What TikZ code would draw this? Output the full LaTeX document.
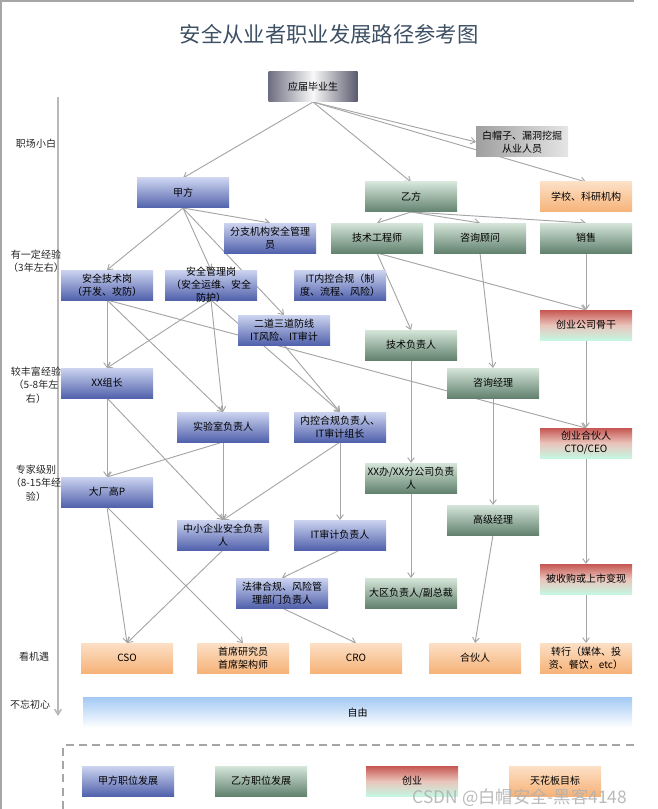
\documentclass[tikz,border=0pt]{standalone}
\usepackage{fontspec}
\setmainfont{Noto Sans CJK SC}
\usetikzlibrary{arrows.meta}
\pgfdeclarelayer{bg}
\pgfsetlayers{bg,main}
\definecolor{bluetop}{RGB}{204,212,240}
\definecolor{bluebot}{RGB}{82,98,172}
\definecolor{greentop}{RGB}{214,230,218}
\definecolor{greenbot}{RGB}{98,130,110}
\definecolor{orangetop}{RGB}{252,224,198}
\definecolor{orangebot}{RGB}{246,178,120}
\definecolor{redtop}{RGB}{198,86,82}
\definecolor{redmid}{RGB}{234,196,186}
\definecolor{redbot}{RGB}{196,246,226}
\definecolor{skytop}{RGB}{164,202,244}
\definecolor{linegray}{RGB}{165,165,165}
\definecolor{titlecol}{RGB}{62,80,100}
\definecolor{gdark}{RGB}{110,110,130}
\definecolor{gdark2}{RGB}{90,90,110}
\newcommand{\mybox}[4]{\node[#1] (#2) at (#3) {}; \node[txt] (#2-t) at (#2.center) {#4};}
\tikzset{
  basebox/.style={minimum width=69pt, minimum height=22.5pt, inner sep=0pt, outer sep=0pt},
  bluebox/.style={basebox, top color=bluetop, bottom color=bluebot},
  greenbox/.style={basebox, top color=greentop, bottom color=greenbot},
  orangebox/.style={basebox, top color=orangetop, bottom color=orangebot},
  redbox/.style={basebox, top color=redtop, bottom color=redbot, middle color=redmid},
  skybox/.style={basebox, top color=skytop, bottom color=white},
  graybox/.style={basebox, left color=gdark, right color=gdark2, middle color=white!95!gray},
  gray2box/.style={basebox, left color=gray!75, right color=gray!20},
  txt/.style={align=center, font=\fontsize{7.5}{9.75}\selectfont, inner sep=0pt},
  lefttxt/.style={align=center, font=\fontsize{7.5}{10}\selectfont, inner sep=0pt, text=black!85},
  conn/.style={draw=linegray, line width=0.7pt, -{Straight Barb[length=3.5pt,width=5pt]}},
}
\begin{document}
\begin{tikzpicture}[x=0.75pt,y=-0.75pt]
\useasboundingbox (0,0) rectangle (657,809);
% frame
\draw[gray!70, line width=1pt] (1,0) -- (1,809);
\draw[gray!70, line width=1pt] (0,1) -- (634,1);
% title
\node[font=\fontsize{16}{16}\selectfont, text=titlecol] (title) at (329,34) {安全从业者职业发展路径参考图};
% axis
\coordinate (axtop) at (58,97);
\coordinate (axbot) at (58,716);
\draw[draw=gray!55, line width=1.2pt, -{Straight Barb[length=4pt,width=5pt]}] (axtop) -- (axbot);
\node[lefttxt] (l1) at (36,144) {职场小白};
\node[lefttxt] (l2) at (36,261) {有一定经验\\（3年左右）};
\node[lefttxt] (l3) at (36,385) {较丰富经验\\（5-8年左\\右）};
\node[lefttxt] (l4) at (36,483) {专家级别\\（8-15年经\\验）};
\node[lefttxt] (l5) at (34,657) {看机遇};
\node[lefttxt] (l6) at (30,705) {不忘初心};
% boxes
\node[graybox, minimum width=66.75pt] (ying) at (313,87) {}; \node[txt] (ying-t) at (ying.center) {应届毕业生};
\mybox{gray2box}{baimao}{522,142}{白帽子、漏洞挖掘\\从业人员}
\mybox{bluebox}{jia}{183,193}{甲方}
\mybox{greenbox}{yi}{411,197}{乙方}
\mybox{orangebox}{xuexiao}{586,197}{学校、科研机构}
\mybox{bluebox}{fenzhi}{270,238}{分支机构安全管理\\员}
\mybox{greenbox}{jsgcs}{377,238}{技术工程师}
\mybox{greenbox}{zxgw}{480,238}{咨询顾问}
\mybox{greenbox}{xs}{586,238}{销售}
\mybox{bluebox}{jsg}{107,285}{安全技术岗\\（开发、攻防）}
\mybox{bluebox}{glg}{211,285}{安全管理岗\\（安全运维、安全\\防护）}
\mybox{bluebox}{itnk}{340,285}{IT内控合规（制\\度、流程、风险）}
\mybox{bluebox}{erdao}{284,330}{二道三道防线\\IT风险、IT审计}
\mybox{greenbox}{jsfzr}{411,345}{技术负责人}
\mybox{redbox}{cygg}{586,325}{创业公司骨干}
\mybox{bluebox}{xxzz}{107,383}{XX组长}
\mybox{greenbox}{zxjl}{493,383}{咨询经理}
\mybox{bluebox}{sys}{223,427}{实验室负责人}
\mybox{bluebox}{nkfzr}{340,427}{内控合规负责人、\\IT审计组长}
\mybox{redbox}{cyhhr}{586,443}{创业合伙人\\CTO/CEO}
\mybox{greenbox}{xxban}{411,478}{XX办/XX分公司负责\\人}
\mybox{bluebox}{dcgp}{107,492}{大厂高P}
\mybox{greenbox}{gjjl}{493,520}{高级经理}
\mybox{bluebox}{zxqy}{223,535}{中小企业安全负责\\人}
\mybox{bluebox}{itsj}{340,535}{IT审计负责人}
\mybox{redbox}{bsg}{586,579}{被收购或上市变现}
\mybox{bluebox}{flhg}{282,593}{法律合规、风险管\\理部门负责人}
\mybox{greenbox}{dqfzr}{411,593}{大区负责人/副总裁}
\mybox{orangebox}{cso}{127,658}{CSO}
\mybox{orangebox}{sxyjy}{243,658}{首席研究员\\首席架构师}
\mybox{orangebox}{cro}{356,658}{CRO}
\mybox{orangebox}{hhr}{475,658}{合伙人}
\mybox{orangebox}{zh}{586,658}{转行（媒体、投\\资、餐饮，etc）}
\mybox{skybox, minimum width=411.75pt}{ziyou}{357.5,712.5}{自由}
% legend
\coordinate (dashA) at (63,809);
\coordinate (dashB) at (63,745);
\coordinate (dashC) at (634,745);
\draw[gray!70, line width=0.8pt, dash pattern=on 6pt off 4pt] (dashA) -- (dashB) -- (dashC);
\mybox{bluebox}{lg1}{128,781}{甲方职位发展}
\mybox{greenbox}{lg2}{261,781}{乙方职位发展}
\mybox{redbox}{lg3}{412,781}{创业}
\mybox{orangebox}{lg4}{555,781}{天花板目标}
\node[font=\fontsize{13}{13}\selectfont, text=gray!60, opacity=0.9] (wm) at (520,798) {CSDN @白帽安全-黑客4148};
% connectors
\begin{pgfonlayer}{bg}
\draw[conn] (ying.south) -- (jia.north);
\draw[conn] (ying.south) -- (yi.north);
\draw[conn] (ying.south) -- (baimao.west);
\draw[conn] (ying.south) -- (xuexiao.north);
\draw[conn] (jia.south) -- (fenzhi.north);
\draw[conn] (jia.south) -- (jsg.north);
\draw[conn] (jia.south) -- (glg.north);
\draw[conn] (jia.south) -- (erdao.north);
\draw[conn] (yi.south) -- (jsgcs.north);
\draw[conn] (yi.south) -- (zxgw.north);
\draw[conn] (yi.south) -- (xs.north);
\draw[conn] (jsgcs.south) -- (jsfzr.north);
\draw[conn] (jsgcs.south) -- (cygg.north);
\draw[conn] (zxgw.south) -- (zxjl.north);
\draw[conn] (xs.south) -- (cygg.north);
\draw[conn] (cygg.south) -- (cyhhr.north);
\draw[conn] (cyhhr.south) -- (bsg.north);
\draw[conn] (bsg.south) -- (zh.north);
\draw[conn] (jsfzr.south) -- (xxban.north);
\draw[conn] (xxban.south) -- (dqfzr.north);
\draw[conn] (zxjl.south) -- (gjjl.north);
\draw[conn] (gjjl.south) -- (hhr.north);
\draw[conn] (jsg.south) -- (xxzz.north);
\draw[conn] (jsg.south) -- (sys.north);
\draw[conn] (jsg.south) -- (cyhhr.north);
\draw[conn] (glg.south) -- (xxzz.north);
\draw[conn] (glg.south) -- (sys.north);
\draw[conn] (glg.south) -- (nkfzr.north);
\draw[conn] (erdao.south) -- (nkfzr.north);
\draw[conn] (xxzz.south) -- (dcgp.north);
\draw[conn] (xxzz.south) -- (zxqy.north);
\draw[conn] (sys.south) -- (dcgp.north);
\draw[conn] (sys.south) -- (zxqy.north);
\draw[conn] (nkfzr.south) -- (zxqy.north);
\draw[conn] (nkfzr.south) -- (itsj.north);
\draw[conn] (dcgp.south) -- (cso.north);
\draw[conn] (dcgp.south) -- (sxyjy.north);
\draw[conn] (zxqy.south) -- (cso.north);
\draw[conn] (itsj.south) -- (flhg.north);
\draw[conn] (flhg.south) -- (cro.north);
\end{pgfonlayer}
\end{tikzpicture}
\end{document}
